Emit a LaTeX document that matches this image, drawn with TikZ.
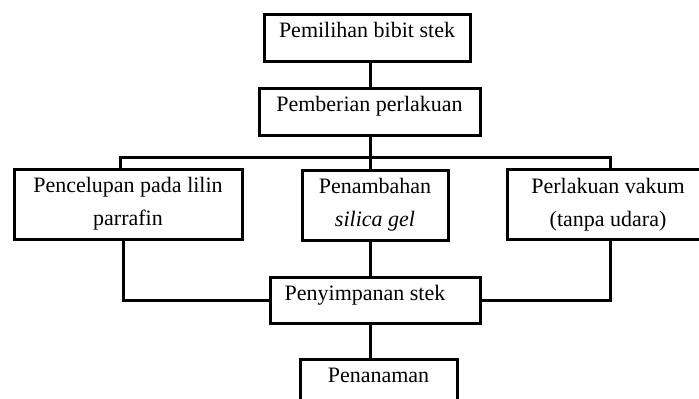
\documentclass[tikz,border=0pt]{standalone}
\usepackage{fontspec}
\setmainfont{Liberation Serif}
\usetikzlibrary{positioning}

\begin{document}
\begin{tikzpicture}[x=1pt,y=-1pt,font=\fontsize{22}{33}\selectfont,
  box/.style={draw,line width=3pt,inner sep=0pt,align=center},
  onebox/.style={box,text height=8pt,text depth=8pt,minimum height=47pt},
  twobox/.style={box,minimum height=70pt},
  link/.style={line width=3pt}]
  \useasboundingbox (0,0) rectangle (699,399);
  \clip (0,0) rectangle (699,399);
  % steps down the middle
  \node[onebox,minimum width=206pt] (pilih) at (367,37.5) {Pemilihan bibit stek};
  \node[onebox,minimum width=221pt] (beri) at (369.5,111.5) {Pemberian perlakuan};
  % the three treatments
  \node[twobox,minimum width=228pt] (celup) at (128,204) {Pencelupan pada lilin\\parrafin};
  \node[twobox,minimum width=146pt] (silica) at (375,205) {Penambahan\\\textit{silica gel}};
  \node[twobox,minimum width=202pt] (vakum) at (608,204.5) {Perlakuan vakum\\(tanpa udara)};
  \node[onebox,minimum width=210pt,minimum height=46pt] (simpan) at (375,300) {Penyimpanan stek\hspace*{20pt}};
  \node[onebox,minimum width=157pt] (tanam) at (378.5,382.5) {Penanaman};
  \coordinate (ax) at (370,0);
  \coordinate (bar) at (370,157);
  \coordinate (barL) at (120,157);
  \coordinate (barR) at (610,157);
  \coordinate (joinL) at (123,300);
  \coordinate (joinR) at (610,300);
  \draw[link] (pilih.south -| ax) -- (beri.north -| ax);
  \draw[link] (beri.south -| ax) -- (bar);
  \draw[link] (barL |- celup.north) -- (barL) -- (barR) -- (barR |- vakum.north);
  \draw[link] (bar) -- (bar |- silica.north);
  \draw[link] (joinL |- celup.south) -- (joinL) -- (joinL -| simpan.west);
  \draw[link] (joinR |- vakum.south) -- (joinR) -- (joinR -| simpan.east);
  \draw[link] (silica.south -| ax) -- (simpan.north -| ax);
  \draw[link] (simpan.south -| ax) -- (tanam.north -| ax);
\end{tikzpicture}
\end{document}
